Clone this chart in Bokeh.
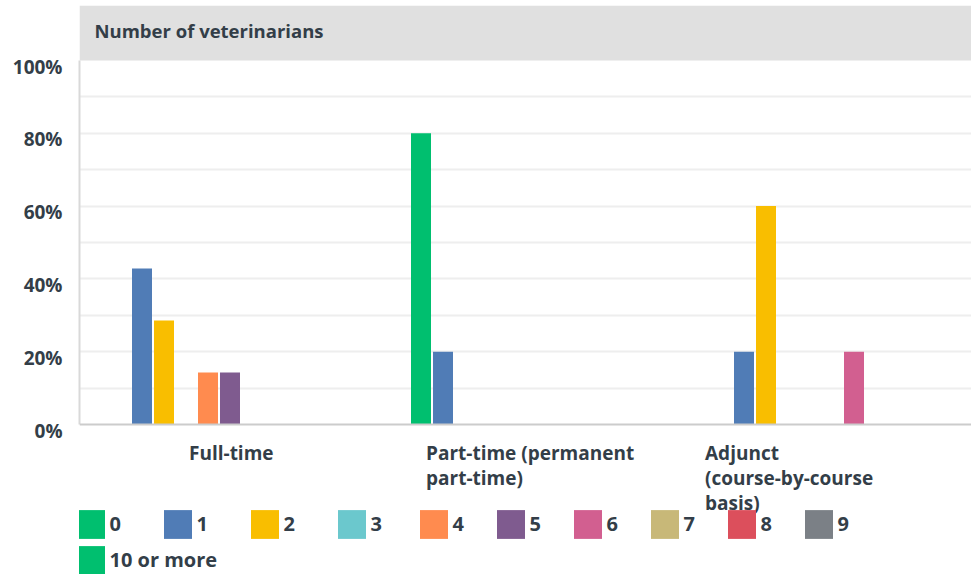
from bokeh.plotting import figure
from bokeh.models import (Range1d, FixedTicker, PrintfTickFormatter, BoxAnnotation,
                          Label, Legend, LegendItem, LinearAxis, Grid, Span)
from bokeh.embed import file_html
from bokeh.resources import INLINE

# ---------------- data ----------------
header_text = "Number of veterinarians"
categories = ["Full-time", "Part-time (permanent\npart-time)", "Adjunct\n(course-by-course\nbasis)"]
series_names = ["0", "1", "2", "3", "4", "5", "6", "7", "8", "9", "10 or more"]
# percent of respondents per category (Full-time, Part-time, Adjunct)
s_0 = [0.0, 80.0, 0.0]
s_1 = [42.86, 20.0, 20.0]
s_2 = [28.57, 0.0, 60.0]
s_3 = [0.0, 0.0, 0.0]
s_4 = [14.29, 0.0, 0.0]
s_5 = [14.29, 0.0, 0.0]
s_6 = [0.0, 0.0, 20.0]
s_7 = [0.0, 0.0, 0.0]
s_8 = [0.0, 0.0, 0.0]
s_9 = [0.0, 0.0, 0.0]
s_10 = [0.0, 0.0, 0.0]
series_values = [s_0, s_1, s_2, s_3, s_4, s_5, s_6, s_7, s_8, s_9, s_10]
y_ticks = [0, 20, 40, 60, 80, 100]
grid_ticks = [10, 20, 30, 40, 50, 60, 70, 80, 90]

# ---------------- styles ----------------
palette = ["#00bf6f", "#507cb6", "#f9be00", "#6bc8cd", "#ff8b4f", "#7f5b8f",
           "#d25f90", "#c8b878", "#dc4f5c", "#7b8086", "#00bf6f"]
TEXT = "#333e48"
FONT = "Open Sans"
CAT_PX = 301.0          # pixels per category
STEP = 22.0 / CAT_PX    # bar step within a group
BAR_W = 20.0 / CAT_PX
PX_PER_UNIT = 3.64      # vertical pixels per percent

W, H = 971, 574
FRAME_LEFT = 79
FRAME_TOP = 5
FRAME_W = W - FRAME_LEFT
Y_BOTTOM = -150 / PX_PER_UNIT       # space below baseline for labels & legend
Y_TOP = 100 + 55 / PX_PER_UNIT      # header band

p = figure(width=W, height=H, output_backend="svg", toolbar_location=None,
           x_range=Range1d(0, FRAME_W / CAT_PX), y_range=Range1d(Y_BOTTOM, Y_TOP),
           x_axis_location=None, y_axis_location=None,
           min_border_left=FRAME_LEFT, min_border_right=0, min_border_top=FRAME_TOP,
           min_border_bottom=0)
p.outline_line_color = None
p.background_fill_color = "white"
p.border_fill_color = "white"
for g in list(p.grid):
    g.visible = False

# gridlines and baseline
p.add_layout(Grid(dimension=1, ticker=FixedTicker(ticks=grid_ticks),
                  grid_line_color="#eeeeee", grid_line_width=2))
p.add_layout(Span(location=0, dimension="width", line_color="#cccccc", line_width=2))

# header band
p.add_layout(BoxAnnotation(bottom=100, fill_color="#e0e0e0", fill_alpha=1.0,
                           line_color=None, level="underlay"))
p.add_layout(Label(x=0, y=100, x_offset=15, y_offset=30, text=header_text,
                   text_font=FONT, text_font_style="bold", text_font_size="18.5px",
                   text_color=TEXT, text_baseline="middle", text_align="left"))

# bars
n = len(series_names)
renderers = []
for j, (name, vals) in enumerate(zip(series_names, series_values)):
    xs = [ci + 0.5 + (j - (n - 1) / 2) * STEP for ci in range(len(categories))]
    r = p.vbar(x=xs, top=vals, bottom=0, width=BAR_W, fill_color=palette[j],
               line_color=None)
    renderers.append(r)

# y axis (labels sit slightly below their gridlines, as in the original)
shift = 6 / PX_PER_UNIT
p.extra_y_ranges = {"lab": Range1d(Y_BOTTOM + shift, Y_TOP + shift)}
yax = LinearAxis(y_range_name="lab", ticker=FixedTicker(ticks=y_ticks),
                 formatter=PrintfTickFormatter(format="%d%%"),
                 bounds=(0 + shift, 100 + shift))
yax.axis_line_color = "#d9d9d9"
yax.axis_line_width = 2
yax.major_tick_line_color = None
yax.minor_tick_line_color = None
yax.major_tick_out = 0
yax.major_tick_in = 0
yax.major_label_standoff = 17
yax.major_label_text_font = FONT
yax.major_label_text_font_style = "bold"
yax.major_label_text_font_size = "19px"
yax.major_label_text_color = TEXT
p.add_layout(yax, "left")

# category labels
cat_offsets = [-41, -105, -127]
for ci, (cat, off) in enumerate(zip(categories, cat_offsets)):
    p.add_layout(Label(x=ci + 0.5, y=0, x_offset=off, y_offset=-15, text=cat,
                       text_font=FONT, text_font_style="bold", text_font_size="19px",
                       text_color=TEXT, text_align="left", text_baseline="top",
                       text_line_height=0.97))

# legends
def make_legend(idx, loc, spacing):
    items = [LegendItem(label=series_names[i], renderers=[renderers[i]]) for i in idx]
    lg = Legend(items=items, orientation="horizontal", location=loc,
                spacing=spacing, padding=0, margin=0, label_standoff=2,
                glyph_width=35, glyph_height=36, label_width=20, label_height=20,
                label_text_font=FONT, label_text_font_style="bold",
                label_text_font_size="20px", label_text_color=TEXT,
                background_fill_alpha=0, border_line_color=None)
    p.add_layout(lg, "center")
    return lg

make_legend([0, 1, 2, 3], (-6.5, 32.5), 30)
make_legend([4, 5, 6, 7, 8, 9], (336.5, 32.5), 20)
make_legend([10], (-6.5, -3.5), 20)

open("out.html", "w").write(file_html(p, INLINE))
